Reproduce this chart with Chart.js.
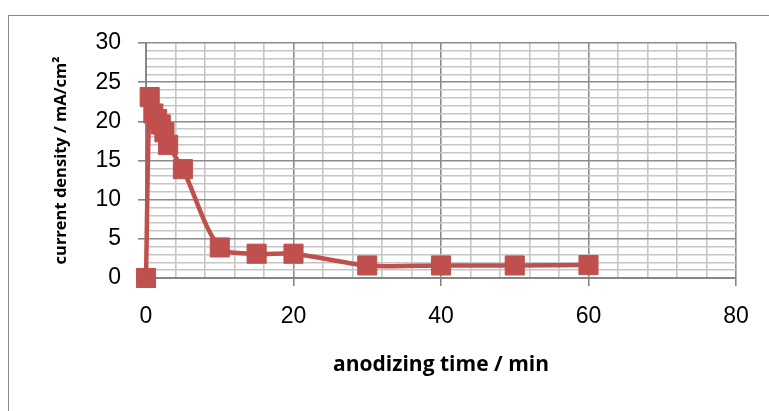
<!DOCTYPE html>
<html>
<head>
<meta charset="utf-8">
<script src="https://cdn.jsdelivr.net/npm/chart.js@4"></script>
<style>
  html, body { margin: 0; padding: 0; background: #fff; overflow: hidden; }
  #wrap { position: relative; width: 769px; height: 411px; }
  #frame { position: absolute; left: 8px; top: 15px; width: 800px; height: 500px; border: 1px solid #8a8a8a; }
  canvas { position: absolute; left: 0; top: 0; }
</style>
</head>
<body>
<div id="wrap">
  <div id="frame"></div>
  <canvas id="chart" width="769" height="411"></canvas>
</div>
<script>
  // anodizing time (min) vs current density (mA/cm2)
  const times = [0, 0.5, 1, 1.5, 2, 2.5, 3, 5, 10, 15, 20, 30, 40, 50, 60];
  const currentDensity = [0, 23.1, 21, 20.3, 19.6, 18.6, 17, 13.9, 3.9, 3.1, 3.1, 1.6, 1.6, 1.6, 1.65];
  const xTickLabels = [0, 20, 40, 60, 80];
  const yTickLabels = [0, 5, 10, 15, 20, 25, 30];

  const seriesColor = '#C0504D';
  const majorGrid = '#8c8c8c';
  const minorGrid = '#c6c6c6';

  const points = times.map((t, i) => ({ x: t, y: currentDensity[i] }));

  new Chart(document.getElementById('chart'), {
    type: 'scatter',
    data: {
      datasets: [{
        data: points,
        showLine: true,
        borderColor: seriesColor,
        borderWidth: 4.5,
        tension: 0.3,
        pointStyle: 'rect',
        pointRadius: 13.5,
        pointBackgroundColor: seriesColor,
        pointBorderColor: seriesColor,
        pointBorderWidth: 1,
        clip: false
      }]
    },
    options: {
      responsive: false,
      animation: false,
      layout: { padding: { left: 51, top: 43, right: 33, bottom: 33 } },
      plugins: { legend: { display: false }, tooltip: { enabled: false } },
      scales: {
        x: {
          type: 'linear',
          min: 0,
          max: 80,
          afterFit: (scale) => { scale.height = 100; },
          border: { color: '#868686', width: 2 },
          grid: {
            lineWidth: 1.6,
            color: (ctx) => xTickLabels.includes(ctx.tick.value) ? majorGrid : minorGrid,
            tickColor: (ctx) => xTickLabels.includes(ctx.tick.value) ? '#868686' : 'rgba(0,0,0,0)',
            tickLength: 8
          },
          ticks: {
            stepSize: 4,
            maxTicksLimit: 100,
            autoSkip: false,
            maxRotation: 0,
            padding: 17,
            color: '#000',
            font: { family: 'Liberation Sans', size: 23 },
            callback: (value) => xTickLabels.includes(value) ? String(value) : ''
          },
          title: {
            display: true,
            text: 'anodizing time / min',
            color: '#000',
            font: { family: 'Open Sans', size: 21, weight: 'bold' },
            padding: 0
          }
        },
        y: {
          min: 0,
          max: 30,
          afterFit: (scale) => { scale.width = 95; },
          border: { color: '#868686', width: 2 },
          grid: {
            lineWidth: 1.6,
            color: (ctx) => yTickLabels.includes(ctx.tick.value) ? majorGrid : minorGrid,
            tickColor: (ctx) => yTickLabels.includes(ctx.tick.value) ? '#868686' : 'rgba(0,0,0,0)',
            tickLength: 8
          },
          ticks: {
            stepSize: 1,
            maxTicksLimit: 100,
            autoSkip: false,
            padding: 17,
            color: '#000',
            font: { family: 'Liberation Sans', size: 23 },
            callback: (value) => yTickLabels.includes(value) ? String(value) : ''
          },
          title: {
            display: true,
            text: 'current density / mA/cm²',
            color: '#000',
            font: { family: 'Open Sans', size: 16.5, weight: 'bold' },
            padding: 0
          }
        }
      }
    }
  });
</script>
</body>
</html>
